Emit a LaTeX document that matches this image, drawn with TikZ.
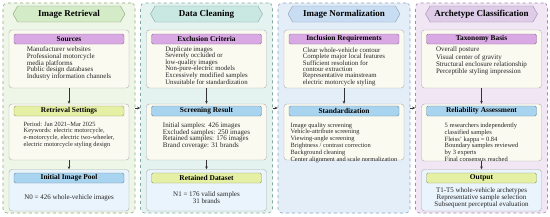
\documentclass[tikz,border=0pt]{standalone}
\usepackage{fontspec}
\setmainfont{Liberation Serif}
\usetikzlibrary{arrows.meta,positioning,shapes.symbols}

\definecolor{bgA}{HTML}{EEF6E8}
\definecolor{bgB}{HTML}{E4F3F0}
\definecolor{bgC}{HTML}{E3EEF8}
\definecolor{bgD}{HTML}{F0E6F4}
\definecolor{lnA}{HTML}{8FA87E}
\definecolor{lnB}{HTML}{82A8A2}
\definecolor{lnC}{HTML}{8AA2BC}
\definecolor{lnD}{HTML}{A08CAE}
\definecolor{hdA}{HTML}{D3EBC6}
\definecolor{hdB}{HTML}{C9E8E2}
\definecolor{hdC}{HTML}{C8DDF2}
\definecolor{hdD}{HTML}{DDCBE8}
\definecolor{cream}{HTML}{FBFAF1}
\definecolor{paleBlue}{HTML}{EAF4FC}
\definecolor{barPurple}{HTML}{D9A9E4}
\definecolor{barLime}{HTML}{E5F0A4}
\definecolor{barBlue}{HTML}{A9D4EF}

\tikzset{
  panel/.style={draw=#1, dashed, line width=0.6pt, rounded corners=4pt,
    minimum width=132pt, minimum height=210pt, inner sep=0pt},
  header/.style={signal, signal to=west and east, signal pointer angle=120,
    draw=#1, minimum width=112pt, minimum height=16pt, inner sep=1pt,
    font=\bfseries\fontsize{9}{10}\selectfont},
  card/.style={draw=gray!65, fill=cream, rounded corners=3pt,
    minimum width=120pt, inner sep=0pt},
  bar/.style={draw=#1!65!black, fill=#1, rounded corners=1.5pt,
    minimum width=110pt, minimum height=10pt, inner sep=0pt,
    font=\bfseries\fontsize{7.4}{8}\selectfont},
  body/.style 2 args={align=left, inner sep=0pt, anchor=north,
    text=black!85, font=\fontsize{#1}{#2}\selectfont},
  arr/.style={-{Stealth[length=3pt,width=2.6pt]}, line width=0.5pt, black!80}
}

\begin{document}
\begin{tikzpicture}[x=1pt,y=-1pt]
\useasboundingbox (0,0) rectangle (550,217);

% four stage panels
\foreach \name/\cx/\bg/\ln/\hd/\title in {
    retrieval/69/bgA/lnA/hdA/Image Retrieval,
    cleaning/206.5/bgB/lnB/hdB/Data Cleaning,
    normal/344/bgC/lnC/hdC/Image Normalization,
    archetype/481.5/bgD/lnD/hdD/Archetype Classification}{
  \node[panel=\ln, fill=\bg] (\name) at (\cx,108) {};
  \node[header=\ln, fill=\hd] (\name Head) at (\cx,14) {\title};
}

% image retrieval
\node[card, minimum height=58pt] (srcBox) at (69,59) {};
\node[bar=barPurple] (srcBar) at (69,39) {Sources};
\node[body={7}{6.7}] (srcText) at (69,46.5) {Manufacturer websites\\Professional motorcycle\\media platforms\\Public design databases\\Industry information channels};

\node[card, minimum height=56pt] (setBox) at (69,132) {};
\node[bar=barLime] (setBar) at (69,111) {Retrieval Settings};
\node[body={6.4}{6.7}] (setText) at (69,121.5) {Period: Jan 2021–Mar 2025\\Keywords: electric motorcycle,\\e-motorcycle, electric two-wheeler,\\electric motorcycle styling design};

\node[card, fill=paleBlue, minimum height=41.5pt] (poolBox) at (69,190.25) {};
\node[bar=barBlue] (poolBar) at (69,178) {Initial Image Pool};
\node[body={7}{6.7}, anchor=center] (poolText) at (69,198) {N0 = 426 whole-vehicle images};

\draw[arr] (srcBox) -- (setBox);
\draw[arr] (setBox) -- (poolBox);

% data cleaning
\node[card, minimum height=58pt] (excBox) at (206.5,59) {};
\node[bar=barPurple] (excBar) at (206.5,39) {Exclusion Criteria};
\node[body={6.8}{6.2}] (excText) at (206.5,46.8) {Duplicate images\\Severely occluded or\\low-quality images\\Non-pure-electric models\\Excessively modified samples\\Unsuitable for standardization};

\node[card, minimum height=56pt] (scrBox) at (206.5,132) {};
\node[bar=barBlue] (scrBar) at (206.5,111) {Screening Result};
\node[body={7}{6.7}] (scrText) at (206.5,122.5) {Initial samples: 426 images\\Excluded samples: 250 images\\Retained samples: 176 images\\Brand coverage: 31 brands};

\node[card, fill=paleBlue, minimum height=41.5pt] (retBox) at (206.5,190.25) {};
\node[bar=barLime] (retBar) at (206.5,178) {Retained Dataset};
\node[body={7}{6.7}, align=center, anchor=center] (retText) at (206.5,197.5) {N1 = 176 valid samples\\31 brands};

\draw[arr] (excBox) -- (scrBox);
\draw[arr] (scrBox) -- (retBox);

% image normalization
\node[card, minimum height=58pt] (incBox) at (344,59) {};
\node[bar=barPurple] (incBar) at (344,39) {Inclusion Requirements};
\node[body={6.8}{6.0}] (incText) at (344,47.5) {Clear whole-vehicle contour\\Complete major local features\\Sufficient resolution for\\contour extraction\\Representative mainstream\\electric motorcycle styling};

\node[card, minimum height=56pt] (stdBox) at (344,132) {};
\node[bar=barBlue] (stdBar) at (344,111) {Standardization};
\node[body={6.4}{5.8}] (stdText) at (344,122.5) {Image quality screening\\Vehicle-attribute screening\\Viewing-angle screening\\Brightness / contrast correction\\Background cleaning\\Center alignment and scale normalization};

\draw[arr] (incBox) -- (stdBox);

% archetype classification
\node[card, minimum height=58pt] (taxBox) at (481.5,59) {};
\node[bar=barPurple] (taxBar) at (481.5,39) {Taxonomy Basis};
\node[body={7}{6.3}] (taxText) at (481.5,46.8) {Overall posture\\Visual center of gravity\\Structural enclosure relationship\\Perceptible styling impression};

\node[card, minimum height=57pt] (relBox) at (481.5,132.5) {};
\node[bar=barBlue] (relBar) at (481.5,111) {Reliability Assessment};
\node[body={6.5}{5.8}] (relText) at (481.5,122.5) {5 researchers independently\\classified samples\\Fleiss' kappa = 0.84\\Boundary samples reviewed\\by 3 experts\\Final consensus reached};

\node[card, fill=paleBlue, minimum height=41.5pt] (outBox) at (481.5,190.25) {};
\node[bar=barLime] (outBar) at (481.5,178) {Output};
\node[body={7}{6.67}, align=center, anchor=center] (outText) at (481.5,197.7) {T1-T5 whole-vehicle archetypes\\Representative sample selection\\Subsequent perceptual evaluation};

\draw[arr] (taxBox) -- (relBox);
\draw[arr] (relBox) -- (outBox);

% stage flow
\draw[arr] (retrieval) -- (cleaning);
\draw[arr] (cleaning) -- (normal);
\draw[arr] (normal) -- (archetype);
\end{tikzpicture}
\end{document}
